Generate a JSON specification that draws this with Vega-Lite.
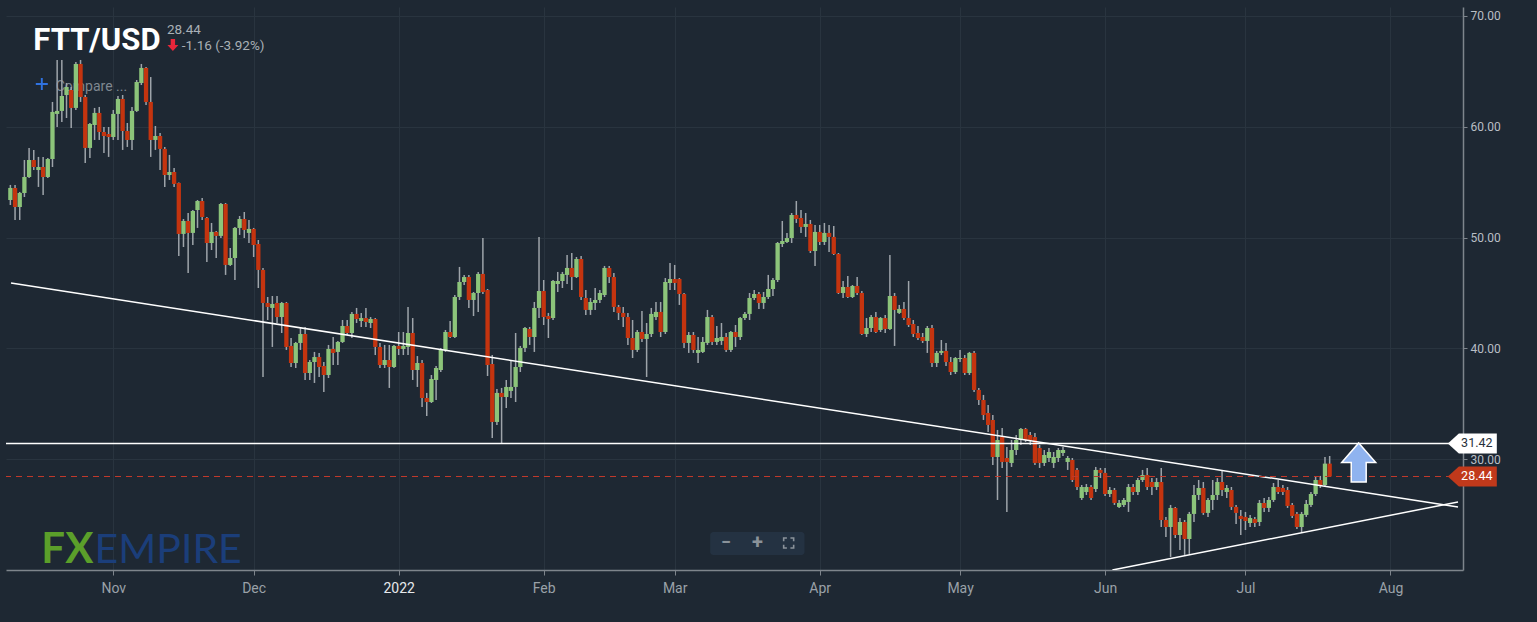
{
 "$schema": "https://vega.github.io/schema/vega-lite/v6.json",
 "width": 1457,
 "height": 563,
 "autosize": {"type": "none"},
 "padding": {"left": 6, "top": 7, "right": 74, "bottom": 52},
 "background": "#1e2833",
 "config": {"view": {"stroke": null}, "font": "Roboto"},
 "datasets": {
  "candles": [
{"d":"2021-10-10","o":53.39,"h":54.75,"l":52.94,"c":54.48},
{"d":"2021-10-11","o":54.48,"h":54.75,"l":51.59,"c":52.76},
{"d":"2021-10-12","o":52.76,"h":54.12,"l":51.59,"c":54.03},
{"d":"2021-10-13","o":54.03,"h":57.00,"l":53.66,"c":55.47},
{"d":"2021-10-14","o":55.47,"h":58.09,"l":55.38,"c":57.00},
{"d":"2021-10-15","o":57.00,"h":57.91,"l":56.10,"c":56.37},
{"d":"2021-10-16","o":56.10,"h":57.28,"l":54.57,"c":56.37},
{"d":"2021-10-17","o":56.37,"h":57.28,"l":53.85,"c":55.47},
{"d":"2021-10-18","o":55.47,"h":57.18,"l":55.38,"c":57.09},
{"d":"2021-10-19","o":57.09,"h":62.24,"l":56.37,"c":61.34},
{"d":"2021-10-20","o":61.16,"h":66.03,"l":59.98,"c":61.43},
{"d":"2021-10-21","o":61.43,"h":66.03,"l":60.43,"c":62.78},
{"d":"2021-10-22","o":62.87,"h":63.95,"l":60.79,"c":63.59},
{"d":"2021-10-23","o":63.32,"h":63.59,"l":59.89,"c":61.70},
{"d":"2021-10-24","o":61.70,"h":65.85,"l":61.52,"c":65.67},
{"d":"2021-10-25","o":65.67,"h":66.03,"l":62.24,"c":62.69},
{"d":"2021-10-26","o":62.69,"h":62.87,"l":56.73,"c":58.09},
{"d":"2021-10-27","o":58.09,"h":60.34,"l":57.18,"c":60.25},
{"d":"2021-10-28","o":60.16,"h":61.70,"l":58.81,"c":61.25},
{"d":"2021-10-29","o":61.25,"h":61.79,"l":58.81,"c":59.53},
{"d":"2021-10-30","o":59.53,"h":59.98,"l":57.64,"c":59.17},
{"d":"2021-10-31","o":59.35,"h":59.98,"l":57.28,"c":59.08},
{"d":"2021-11-01","o":59.08,"h":61.52,"l":58.81,"c":61.16},
{"d":"2021-11-02","o":61.16,"h":62.78,"l":58.81,"c":62.51},
{"d":"2021-11-03","o":62.51,"h":62.87,"l":57.91,"c":59.62},
{"d":"2021-11-04","o":59.62,"h":60.34,"l":58.18,"c":58.81},
{"d":"2021-11-05","o":58.81,"h":61.79,"l":57.91,"c":61.43},
{"d":"2021-11-06","o":61.43,"h":64.22,"l":61.34,"c":64.04},
{"d":"2021-11-07","o":63.95,"h":65.67,"l":63.77,"c":65.31},
{"d":"2021-11-08","o":65.31,"h":65.40,"l":61.97,"c":62.24},
{"d":"2021-11-09","o":62.24,"h":64.49,"l":57.28,"c":58.81},
{"d":"2021-11-10","o":58.81,"h":60.07,"l":57.91,"c":59.17},
{"d":"2021-11-11","o":59.17,"h":59.44,"l":56.10,"c":58.00},
{"d":"2021-11-12","o":58.00,"h":58.18,"l":54.57,"c":55.65},
{"d":"2021-11-13","o":55.65,"h":57.46,"l":55.20,"c":55.92},
{"d":"2021-11-14","o":55.92,"h":56.28,"l":54.57,"c":54.84},
{"d":"2021-11-15","o":54.93,"h":54.98,"l":48.34,"c":50.33},
{"d":"2021-11-16","o":50.33,"h":51.68,"l":49.15,"c":51.50},
{"d":"2021-11-17","o":51.50,"h":52.22,"l":46.81,"c":50.42},
{"d":"2021-11-18","o":50.42,"h":52.49,"l":49.33,"c":52.40},
{"d":"2021-11-19","o":52.49,"h":53.39,"l":50.87,"c":53.30},
{"d":"2021-11-20","o":53.30,"h":53.57,"l":51.59,"c":51.86},
{"d":"2021-11-21","o":51.77,"h":51.86,"l":47.80,"c":49.51},
{"d":"2021-11-22","o":49.51,"h":51.32,"l":48.88,"c":50.51},
{"d":"2021-11-23","o":50.51,"h":50.60,"l":48.16,"c":50.15},
{"d":"2021-11-24","o":50.15,"h":53.12,"l":49.96,"c":53.03},
{"d":"2021-11-25","o":53.03,"h":53.12,"l":46.63,"c":47.53},
{"d":"2021-11-26","o":47.53,"h":49.06,"l":47.44,"c":48.16},
{"d":"2021-11-27","o":48.16,"h":50.96,"l":46.17,"c":50.87},
{"d":"2021-11-28","o":50.87,"h":51.95,"l":50.24,"c":51.68},
{"d":"2021-11-29","o":51.68,"h":52.31,"l":49.96,"c":50.69},
{"d":"2021-11-30","o":50.42,"h":51.59,"l":49.51,"c":50.78},
{"d":"2021-12-01","o":50.78,"h":50.87,"l":48.25,"c":49.33},
{"d":"2021-12-02","o":49.42,"h":49.78,"l":45.45,"c":47.08},
{"d":"2021-12-03","o":47.08,"h":47.26,"l":37.42,"c":44.10},
{"d":"2021-12-04","o":44.10,"h":44.64,"l":42.56,"c":43.74},
{"d":"2021-12-05","o":43.65,"h":44.73,"l":40.13,"c":44.01},
{"d":"2021-12-06","o":44.10,"h":44.73,"l":42.29,"c":42.83},
{"d":"2021-12-07","o":42.83,"h":44.19,"l":41.39,"c":44.10},
{"d":"2021-12-08","o":44.10,"h":44.19,"l":39.86,"c":40.13},
{"d":"2021-12-09","o":40.22,"h":40.94,"l":38.32,"c":38.68},
{"d":"2021-12-10","o":38.68,"h":40.58,"l":38.23,"c":40.49},
{"d":"2021-12-11","o":40.49,"h":41.93,"l":39.86,"c":41.30},
{"d":"2021-12-12","o":41.30,"h":41.93,"l":37.15,"c":37.78},
{"d":"2021-12-13","o":37.78,"h":38.95,"l":37.15,"c":38.77},
{"d":"2021-12-14","o":38.77,"h":39.68,"l":36.88,"c":39.22},
{"d":"2021-12-15","o":39.22,"h":39.59,"l":37.42,"c":38.32},
{"d":"2021-12-16","o":38.41,"h":38.77,"l":36.07,"c":37.60},
{"d":"2021-12-17","o":37.60,"h":40.31,"l":37.33,"c":39.95},
{"d":"2021-12-18","o":39.95,"h":41.03,"l":38.50,"c":39.59},
{"d":"2021-12-19","o":39.68,"h":40.67,"l":38.50,"c":40.58},
{"d":"2021-12-20","o":40.58,"h":42.56,"l":40.49,"c":42.02},
{"d":"2021-12-21","o":42.02,"h":42.56,"l":41.21,"c":41.39},
{"d":"2021-12-22","o":41.39,"h":43.29,"l":40.94,"c":43.11},
{"d":"2021-12-23","o":43.11,"h":43.65,"l":42.29,"c":42.65},
{"d":"2021-12-24","o":42.47,"h":43.20,"l":41.93,"c":42.74},
{"d":"2021-12-25","o":42.74,"h":43.65,"l":41.93,"c":42.38},
{"d":"2021-12-26","o":42.29,"h":42.83,"l":41.84,"c":42.65},
{"d":"2021-12-27","o":42.65,"h":42.74,"l":39.40,"c":40.13},
{"d":"2021-12-28","o":40.13,"h":40.49,"l":38.23,"c":38.50},
{"d":"2021-12-29","o":38.50,"h":40.31,"l":38.23,"c":38.95},
{"d":"2021-12-30","o":38.95,"h":40.31,"l":36.43,"c":38.32},
{"d":"2021-12-31","o":38.32,"h":40.31,"l":38.23,"c":40.22},
{"d":"2022-01-01","o":40.22,"h":41.48,"l":39.40,"c":39.95},
{"d":"2022-01-02","o":39.95,"h":41.48,"l":39.40,"c":40.22},
{"d":"2022-01-03","o":40.13,"h":43.74,"l":39.40,"c":41.39},
{"d":"2022-01-04","o":41.39,"h":42.74,"l":37.15,"c":38.05},
{"d":"2022-01-05","o":38.05,"h":39.31,"l":36.52,"c":38.68},
{"d":"2022-01-06","o":38.68,"h":38.95,"l":34.71,"c":35.52},
{"d":"2022-01-07","o":35.52,"h":35.98,"l":33.90,"c":35.16},
{"d":"2022-01-08","o":35.16,"h":37.60,"l":35.07,"c":37.24},
{"d":"2022-01-09","o":37.15,"h":38.41,"l":35.34,"c":38.23},
{"d":"2022-01-10","o":38.05,"h":40.04,"l":37.87,"c":39.86},
{"d":"2022-01-11","o":39.86,"h":41.66,"l":39.68,"c":41.48},
{"d":"2022-01-12","o":41.48,"h":42.47,"l":40.94,"c":41.03},
{"d":"2022-01-13","o":41.03,"h":44.82,"l":40.94,"c":44.64},
{"d":"2022-01-14","o":44.64,"h":47.35,"l":44.37,"c":45.99},
{"d":"2022-01-15","o":45.99,"h":46.63,"l":45.72,"c":46.44},
{"d":"2022-01-16","o":46.44,"h":46.63,"l":43.65,"c":44.37},
{"d":"2022-01-17","o":44.37,"h":45.09,"l":42.92,"c":45.00},
{"d":"2022-01-18","o":45.00,"h":46.90,"l":43.29,"c":46.72},
{"d":"2022-01-19","o":46.72,"h":49.96,"l":44.91,"c":45.09},
{"d":"2022-01-20","o":45.27,"h":45.36,"l":37.51,"c":38.50},
{"d":"2022-01-21","o":38.59,"h":39.40,"l":31.91,"c":33.36},
{"d":"2022-01-22","o":33.36,"h":36.34,"l":33.09,"c":35.98},
{"d":"2022-01-23","o":35.98,"h":36.43,"l":31.37,"c":35.61},
{"d":"2022-01-24","o":35.61,"h":37.15,"l":34.62,"c":36.52},
{"d":"2022-01-25","o":36.16,"h":38.95,"l":35.52,"c":36.52},
{"d":"2022-01-26","o":36.52,"h":41.39,"l":35.16,"c":38.32},
{"d":"2022-01-27","o":38.32,"h":40.22,"l":37.87,"c":40.04},
{"d":"2022-01-28","o":40.04,"h":41.93,"l":39.68,"c":41.84},
{"d":"2022-01-29","o":41.75,"h":41.93,"l":40.31,"c":41.03},
{"d":"2022-01-30","o":41.03,"h":44.19,"l":39.68,"c":43.65},
{"d":"2022-01-31","o":43.65,"h":50.06,"l":42.74,"c":45.18},
{"d":"2022-02-01","o":45.18,"h":46.17,"l":42.11,"c":42.83},
{"d":"2022-02-02","o":42.92,"h":43.20,"l":40.94,"c":42.65},
{"d":"2022-02-03","o":42.74,"h":46.17,"l":42.56,"c":46.08},
{"d":"2022-02-04","o":45.81,"h":46.90,"l":45.09,"c":46.08},
{"d":"2022-02-05","o":46.08,"h":46.90,"l":45.45,"c":46.72},
{"d":"2022-02-06","o":46.63,"h":48.43,"l":45.81,"c":47.26},
{"d":"2022-02-07","o":47.26,"h":48.61,"l":45.27,"c":46.44},
{"d":"2022-02-08","o":46.44,"h":48.25,"l":46.35,"c":48.07},
{"d":"2022-02-09","o":48.07,"h":48.34,"l":44.37,"c":44.64},
{"d":"2022-02-10","o":44.55,"h":45.27,"l":43.02,"c":43.47},
{"d":"2022-02-11","o":43.47,"h":44.55,"l":43.02,"c":44.19},
{"d":"2022-02-12","o":44.10,"h":45.45,"l":43.47,"c":44.37},
{"d":"2022-02-13","o":44.37,"h":45.27,"l":44.10,"c":45.00},
{"d":"2022-02-14","o":44.82,"h":47.44,"l":44.64,"c":47.26},
{"d":"2022-02-15","o":47.26,"h":47.44,"l":45.90,"c":46.44},
{"d":"2022-02-16","o":46.44,"h":46.81,"l":43.29,"c":43.74},
{"d":"2022-02-17","o":43.74,"h":43.92,"l":42.56,"c":43.20},
{"d":"2022-02-18","o":43.20,"h":43.74,"l":41.93,"c":42.83},
{"d":"2022-02-19","o":42.83,"h":43.20,"l":40.31,"c":40.94},
{"d":"2022-02-20","o":40.94,"h":42.56,"l":39.13,"c":39.86},
{"d":"2022-02-21","o":39.86,"h":41.66,"l":39.68,"c":41.48},
{"d":"2022-02-22","o":41.48,"h":43.38,"l":40.58,"c":40.85},
{"d":"2022-02-23","o":40.85,"h":42.29,"l":37.42,"c":41.30},
{"d":"2022-02-24","o":41.30,"h":43.65,"l":41.03,"c":43.11},
{"d":"2022-02-25","o":42.83,"h":44.19,"l":42.56,"c":43.29},
{"d":"2022-02-26","o":43.29,"h":44.19,"l":41.03,"c":41.48},
{"d":"2022-02-27","o":41.48,"h":46.35,"l":41.30,"c":45.99},
{"d":"2022-02-28","o":45.90,"h":47.71,"l":45.27,"c":46.26},
{"d":"2022-03-01","o":46.26,"h":47.53,"l":45.27,"c":45.90},
{"d":"2022-03-02","o":46.26,"h":46.35,"l":43.92,"c":44.91},
{"d":"2022-03-03","o":44.91,"h":45.00,"l":40.04,"c":40.49},
{"d":"2022-03-04","o":40.49,"h":41.48,"l":39.59,"c":41.21},
{"d":"2022-03-05","o":41.21,"h":41.48,"l":39.59,"c":39.86},
{"d":"2022-03-06","o":39.59,"h":41.03,"l":38.68,"c":39.86},
{"d":"2022-03-07","o":39.68,"h":41.03,"l":39.59,"c":40.58},
{"d":"2022-03-08","o":40.49,"h":43.47,"l":40.31,"c":42.83},
{"d":"2022-03-09","o":42.83,"h":43.02,"l":40.31,"c":40.58},
{"d":"2022-03-10","o":40.58,"h":42.02,"l":40.31,"c":40.94},
{"d":"2022-03-11","o":40.67,"h":42.29,"l":40.31,"c":41.03},
{"d":"2022-03-12","o":41.03,"h":41.39,"l":39.68,"c":39.86},
{"d":"2022-03-13","o":39.86,"h":41.57,"l":39.68,"c":41.48},
{"d":"2022-03-14","o":41.48,"h":42.11,"l":40.13,"c":41.03},
{"d":"2022-03-15","o":41.03,"h":42.83,"l":40.76,"c":42.74},
{"d":"2022-03-16","o":42.74,"h":43.29,"l":42.56,"c":43.11},
{"d":"2022-03-17","o":43.11,"h":45.00,"l":42.56,"c":44.55},
{"d":"2022-03-18","o":44.55,"h":45.27,"l":44.37,"c":44.91},
{"d":"2022-03-19","o":44.91,"h":45.09,"l":43.56,"c":44.10},
{"d":"2022-03-20","o":44.10,"h":45.09,"l":43.56,"c":44.64},
{"d":"2022-03-21","o":44.64,"h":46.63,"l":44.46,"c":45.36},
{"d":"2022-03-22","o":45.36,"h":46.35,"l":44.73,"c":46.17},
{"d":"2022-03-23","o":46.17,"h":49.60,"l":45.99,"c":49.51},
{"d":"2022-03-24","o":49.42,"h":51.50,"l":49.15,"c":49.69},
{"d":"2022-03-25","o":49.60,"h":50.42,"l":49.51,"c":49.96},
{"d":"2022-03-26","o":49.96,"h":52.22,"l":49.51,"c":52.04},
{"d":"2022-03-27","o":52.04,"h":53.30,"l":51.32,"c":51.68},
{"d":"2022-03-28","o":51.77,"h":52.49,"l":50.42,"c":50.96},
{"d":"2022-03-29","o":50.96,"h":52.22,"l":50.06,"c":51.23},
{"d":"2022-03-30","o":51.23,"h":51.59,"l":48.61,"c":48.79},
{"d":"2022-03-31","o":48.79,"h":51.14,"l":47.44,"c":50.51},
{"d":"2022-04-01","o":50.51,"h":51.14,"l":49.33,"c":49.60},
{"d":"2022-04-02","o":49.60,"h":51.32,"l":49.33,"c":50.42},
{"d":"2022-04-03","o":50.42,"h":51.14,"l":48.70,"c":50.06},
{"d":"2022-04-04","o":50.06,"h":51.05,"l":48.43,"c":48.52},
{"d":"2022-04-05","o":48.52,"h":48.61,"l":44.91,"c":45.00},
{"d":"2022-04-06","o":45.00,"h":46.08,"l":44.55,"c":45.54},
{"d":"2022-04-07","o":45.54,"h":46.53,"l":44.55,"c":44.64},
{"d":"2022-04-08","o":44.64,"h":45.72,"l":44.55,"c":45.63},
{"d":"2022-04-09","o":45.63,"h":46.44,"l":44.82,"c":45.00},
{"d":"2022-04-10","o":45.00,"h":45.18,"l":41.21,"c":41.30},
{"d":"2022-04-11","o":41.30,"h":42.74,"l":41.03,"c":41.84},
{"d":"2022-04-12","o":41.84,"h":43.02,"l":41.48,"c":42.83},
{"d":"2022-04-13","o":42.83,"h":43.29,"l":41.39,"c":41.48},
{"d":"2022-04-14","o":41.66,"h":42.83,"l":41.48,"c":42.74},
{"d":"2022-04-15","o":42.74,"h":43.02,"l":41.39,"c":41.75},
{"d":"2022-04-16","o":41.75,"h":48.43,"l":41.66,"c":44.73},
{"d":"2022-04-17","o":44.73,"h":45.00,"l":40.22,"c":43.47},
{"d":"2022-04-18","o":43.20,"h":43.92,"l":43.11,"c":43.56},
{"d":"2022-04-19","o":43.56,"h":44.19,"l":42.56,"c":42.74},
{"d":"2022-04-20","o":42.74,"h":46.08,"l":41.93,"c":42.11},
{"d":"2022-04-21","o":42.20,"h":42.56,"l":41.03,"c":41.30},
{"d":"2022-04-22","o":41.39,"h":42.02,"l":40.76,"c":40.94},
{"d":"2022-04-23","o":41.03,"h":41.39,"l":40.49,"c":40.67},
{"d":"2022-04-24","o":40.67,"h":42.02,"l":39.59,"c":41.84},
{"d":"2022-04-25","o":41.84,"h":42.11,"l":38.32,"c":38.68},
{"d":"2022-04-26","o":38.68,"h":39.77,"l":38.32,"c":39.59},
{"d":"2022-04-27","o":39.59,"h":40.76,"l":39.40,"c":39.77},
{"d":"2022-04-28","o":39.77,"h":40.49,"l":38.41,"c":38.77},
{"d":"2022-04-29","o":38.77,"h":39.22,"l":37.60,"c":37.87},
{"d":"2022-04-30","o":37.87,"h":39.22,"l":37.69,"c":39.13},
{"d":"2022-05-01","o":39.04,"h":39.86,"l":38.77,"c":39.13},
{"d":"2022-05-02","o":39.13,"h":39.40,"l":37.60,"c":37.78},
{"d":"2022-05-03","o":37.78,"h":39.68,"l":37.60,"c":39.59},
{"d":"2022-05-04","o":39.59,"h":39.77,"l":36.07,"c":36.25},
{"d":"2022-05-05","o":36.25,"h":36.43,"l":34.89,"c":35.34},
{"d":"2022-05-06","o":35.34,"h":35.80,"l":33.54,"c":33.99},
{"d":"2022-05-07","o":34.17,"h":34.89,"l":32.46,"c":33.09},
{"d":"2022-05-08","o":33.54,"h":33.99,"l":29.48,"c":30.20},
{"d":"2022-05-09","o":30.20,"h":32.64,"l":26.32,"c":31.73},
{"d":"2022-05-10","o":32.00,"h":32.82,"l":29.21,"c":29.75},
{"d":"2022-05-11","o":30.11,"h":31.10,"l":25.24,"c":29.75},
{"d":"2022-05-12","o":29.66,"h":31.73,"l":29.30,"c":30.83},
{"d":"2022-05-13","o":30.83,"h":32.19,"l":30.38,"c":31.73},
{"d":"2022-05-14","o":31.73,"h":32.82,"l":31.28,"c":32.73},
{"d":"2022-05-15","o":32.73,"h":32.82,"l":31.55,"c":31.73},
{"d":"2022-05-16","o":32.19,"h":32.46,"l":31.28,"c":31.73},
{"d":"2022-05-17","o":32.00,"h":32.37,"l":29.48,"c":29.66},
{"d":"2022-05-18","o":31.01,"h":31.28,"l":29.21,"c":29.66},
{"d":"2022-05-19","o":29.66,"h":30.83,"l":29.39,"c":30.38},
{"d":"2022-05-20","o":30.11,"h":31.01,"l":29.75,"c":30.65},
{"d":"2022-05-21","o":29.66,"h":30.65,"l":29.21,"c":30.20},
{"d":"2022-05-22","o":30.11,"h":31.01,"l":29.75,"c":30.83},
{"d":"2022-05-23","o":30.56,"h":31.10,"l":30.29,"c":30.83},
{"d":"2022-05-24","o":29.75,"h":30.29,"l":29.03,"c":30.11},
{"d":"2022-05-25","o":29.93,"h":30.11,"l":27.94,"c":28.12},
{"d":"2022-05-26","o":29.03,"h":29.21,"l":27.22,"c":27.49},
{"d":"2022-05-27","o":26.50,"h":27.67,"l":26.32,"c":27.49},
{"d":"2022-05-28","o":27.04,"h":27.76,"l":26.77,"c":27.49},
{"d":"2022-05-29","o":27.49,"h":27.67,"l":26.32,"c":26.50},
{"d":"2022-05-30","o":27.31,"h":29.30,"l":27.04,"c":29.03},
{"d":"2022-05-31","o":29.03,"h":29.21,"l":28.30,"c":28.76},
{"d":"2022-06-01","o":28.76,"h":29.21,"l":26.68,"c":26.86},
{"d":"2022-06-02","o":26.86,"h":27.49,"l":26.59,"c":27.22},
{"d":"2022-06-03","o":27.22,"h":27.40,"l":25.87,"c":26.05},
{"d":"2022-06-04","o":25.69,"h":26.32,"l":25.60,"c":26.05},
{"d":"2022-06-05","o":25.87,"h":26.50,"l":25.69,"c":26.32},
{"d":"2022-06-06","o":26.14,"h":27.76,"l":25.24,"c":27.49},
{"d":"2022-06-07","o":27.49,"h":27.76,"l":26.77,"c":27.04},
{"d":"2022-06-08","o":27.04,"h":28.30,"l":26.77,"c":28.12},
{"d":"2022-06-09","o":28.12,"h":29.03,"l":27.94,"c":28.57},
{"d":"2022-06-10","o":28.57,"h":29.21,"l":27.22,"c":27.49},
{"d":"2022-06-11","o":27.94,"h":28.30,"l":26.77,"c":27.49},
{"d":"2022-06-12","o":27.49,"h":28.30,"l":27.22,"c":27.94},
{"d":"2022-06-13","o":27.94,"h":29.21,"l":23.88,"c":24.51},
{"d":"2022-06-14","o":24.51,"h":24.79,"l":22.98,"c":23.88},
{"d":"2022-06-15","o":23.88,"h":25.87,"l":21.18,"c":25.60},
{"d":"2022-06-16","o":25.60,"h":25.69,"l":22.89,"c":23.16},
{"d":"2022-06-17","o":23.16,"h":24.69,"l":21.81,"c":24.33},
{"d":"2022-06-18","o":24.33,"h":24.51,"l":21.36,"c":22.80},
{"d":"2022-06-19","o":22.80,"h":25.24,"l":21.45,"c":25.06},
{"d":"2022-06-20","o":25.06,"h":27.67,"l":24.33,"c":26.77},
{"d":"2022-06-21","o":26.77,"h":28.12,"l":26.32,"c":27.40},
{"d":"2022-06-22","o":27.40,"h":27.94,"l":24.97,"c":25.15},
{"d":"2022-06-23","o":25.15,"h":26.50,"l":24.79,"c":26.32},
{"d":"2022-06-24","o":26.32,"h":28.12,"l":25.42,"c":26.77},
{"d":"2022-06-25","o":26.77,"h":28.30,"l":26.32,"c":27.94},
{"d":"2022-06-26","o":27.94,"h":29.03,"l":26.68,"c":27.22},
{"d":"2022-06-27","o":27.04,"h":27.67,"l":26.50,"c":27.40},
{"d":"2022-06-28","o":27.22,"h":27.49,"l":25.42,"c":25.69},
{"d":"2022-06-29","o":25.69,"h":25.87,"l":24.15,"c":25.15},
{"d":"2022-06-30","o":24.88,"h":25.42,"l":23.16,"c":24.60},
{"d":"2022-07-01","o":24.79,"h":25.24,"l":23.61,"c":24.42},
{"d":"2022-07-02","o":24.24,"h":24.97,"l":23.88,"c":24.69},
{"d":"2022-07-03","o":24.60,"h":24.79,"l":23.88,"c":24.24},
{"d":"2022-07-04","o":24.33,"h":26.32,"l":23.97,"c":26.05},
{"d":"2022-07-05","o":26.05,"h":26.50,"l":25.24,"c":25.60},
{"d":"2022-07-06","o":25.60,"h":26.59,"l":25.24,"c":26.32},
{"d":"2022-07-07","o":26.32,"h":27.85,"l":26.14,"c":27.49},
{"d":"2022-07-08","o":27.49,"h":28.12,"l":26.86,"c":27.04},
{"d":"2022-07-09","o":27.40,"h":27.67,"l":26.77,"c":27.04},
{"d":"2022-07-10","o":27.22,"h":27.49,"l":25.60,"c":25.78},
{"d":"2022-07-11","o":25.87,"h":26.05,"l":24.69,"c":24.88},
{"d":"2022-07-12","o":25.06,"h":25.24,"l":23.70,"c":23.88},
{"d":"2022-07-13","o":23.88,"h":25.24,"l":23.34,"c":25.06},
{"d":"2022-07-14","o":24.97,"h":26.32,"l":24.79,"c":25.96},
{"d":"2022-07-15","o":25.87,"h":27.04,"l":25.69,"c":26.86},
{"d":"2022-07-16","o":26.86,"h":28.40,"l":26.68,"c":28.12},
{"d":"2022-07-17","o":28.12,"h":28.49,"l":27.40,"c":27.67},
{"d":"2022-07-18","o":27.67,"h":30.20,"l":27.49,"c":29.60},
{"d":"2022-07-19","o":29.60,"h":30.29,"l":28.40,"c":28.44}
  ],
  "trend": [
   {"t": "down", "d": "2021-10-10T03:13:00Z", "p": 45.90},
   {"t": "down", "d": "2022-08-15T10:25:00Z", "p": 25.69},
   {"t": "up", "d": "2022-06-02T13:30:00Z", "p": 20.0},
   {"t": "up", "d": "2022-08-15T10:25:00Z", "p": 26.14}
  ]
 },
 "layer": [
  {
   "data": {"values": [{}]},
   "mark": {"type": "text", "text": "Compare ...", "align": "left", "baseline": "alphabetic", "fontSize": 14, "color": "#7e8790", "font": "Roboto"},
   "encoding": {
    "x": {"datum": {"year": 2021, "month": 10, "date": 19, "hours": 16, "minutes": 30, "utc": true}, "type": "temporal"},
    "y": {"datum": 63.23, "type": "quantitative"}
   }
  },
  {
   "data": {"values": [{}]},
   "mark": {"type": "point", "shape": "M-1,-0.16H1V0.16H-1Z M-0.16,-1H0.16V1H-0.16Z", "size": 144, "filled": true, "color": "#2f72e0", "opacity": 1},
   "encoding": {
    "x": {"datum": {"year": 2021, "month": 10, "date": 16, "hours": 17, "minutes": 15, "utc": true}, "type": "temporal"},
    "y": {"datum": 63.86, "type": "quantitative"}
   }
  },
  {
   "data": {"values": [{}]},
   "mark": {"type": "text", "text": "FX", "align": "left", "baseline": "alphabetic", "fontSize": 42, "fontWeight": "bold", "color": "#5b9f2a", "font": "Lato"},
   "encoding": {
    "x": {"datum": {"year": 2021, "month": 10, "date": 16, "hours": 15, "utc": true}, "type": "temporal"},
    "y": {"datum": 20.63, "type": "quantitative"}
   }
  },
  {
   "data": {"values": [{}]},
   "mark": {"type": "text", "text": "EMPIRE", "align": "left", "baseline": "alphabetic", "fontSize": 41, "fontWeight": "normal", "color": "#1b3e7a", "font": "Lato"},
   "encoding": {
    "x": {"datum": {"year": 2021, "month": 10, "date": 28, "hours": 0, "utc": true}, "type": "temporal"},
    "y": {"datum": 20.63, "type": "quantitative"}
   }
  },
  {
   "data": {"values": [{}]},
   "mark": {"type": "rect", "color": "#243242", "cornerRadius": 3},
   "encoding": {
    "x": {"datum": {"year": 2022, "month": 3, "date": 8, "hours": 14, "minutes": 10, "utc": true}, "type": "temporal"},
    "x2": {"datum": {"year": 2022, "month": 3, "date": 28, "hours": 18, "utc": true}},
    "y": {"datum": 23.43, "type": "quantitative"},
    "y2": {"datum": 21.36}
   }
  },
  {
   "data": {"values": [{}]},
   "mark": {"type": "text", "text": "−", "align": "center", "baseline": "middle", "fontSize": 18, "fontWeight": "bold", "color": "#8a929a"},
   "encoding": {
    "x": {"datum": {"year": 2022, "month": 3, "date": 11, "hours": 23, "minutes": 30, "utc": true}, "type": "temporal"},
    "y": {"datum": 22.44, "type": "quantitative"}
   }
  },
  {
   "data": {"values": [{}]},
   "mark": {"type": "text", "text": "+", "align": "center", "baseline": "middle", "fontSize": 20, "fontWeight": "bold", "color": "#8a929a"},
   "encoding": {
    "x": {"datum": {"year": 2022, "month": 3, "date": 18, "hours": 17, "utc": true}, "type": "temporal"},
    "y": {"datum": 22.44, "type": "quantitative"}
   }
  },
  {
   "data": {"values": [{}]},
   "mark": {"type": "point", "shape": "M-1,-0.35V-1H-0.35 M0.35,-1H1V-0.35 M1,0.35V1H0.35 M-0.35,1H-1V0.35", "size": 100, "filled": false, "stroke": "#8a929a", "strokeWidth": 1.6, "opacity": 1},
   "encoding": {
    "x": {"datum": {"year": 2022, "month": 3, "date": 25, "hours": 8, "minutes": 40, "utc": true}, "type": "temporal"},
    "y": {"datum": 22.44, "type": "quantitative"}
   }
  },
  {
   "data": {"name": "candles"},
   "mark": {"type": "rule", "color": "#9ea4aa", "strokeWidth": 1.5, "clip": true},
   "encoding": {
    "x": {
     "field": "d", "type": "temporal",
     "scale": {"type": "utc", "domain": [{"year": 2021, "month": 10, "date": 10, "hours": 3, "minutes": 13, "utc": true}, {"year": 2022, "month": 8, "date": 15, "hours": 10, "minutes": 25, "utc": true}]},
     "axis": {
      "title": null,
      "values": [
       {"year": 2021, "month": 11, "date": 1, "utc": true},
       {"year": 2021, "month": 12, "date": 1, "utc": true},
       {"year": 2022, "month": 1, "date": 1, "utc": true},
       {"year": 2022, "month": 2, "date": 1, "utc": true},
       {"year": 2022, "month": 3, "date": 1, "utc": true},
       {"year": 2022, "month": 4, "date": 1, "utc": true},
       {"year": 2022, "month": 5, "date": 1, "utc": true},
       {"year": 2022, "month": 6, "date": 1, "utc": true},
       {"year": 2022, "month": 7, "date": 1, "utc": true},
       {"year": 2022, "month": 8, "date": 1, "utc": true}
      ],
      "labelExpr": "utcFormat(datum.value, '%m') == '01' ? utcFormat(datum.value, '%Y') : utcFormat(datum.value, '%b')",
      "labelColor": {"condition": {"test": "utcFormat(datum.value, '%m') == '01'", "value": "#e6e9ec"}, "value": "#9aa1a8"},
      "labelFontSize": 14,
      "labelFont": "Roboto",
      "labelPadding": 6,
      "labelFlush": false,
      "labelOverlap": false,
      "domainColor": "#7e858c",
      "domainWidth": 1.5,
      "tickColor": "#7e858c",
      "tickSize": 5,
      "tickWidth": 1,
      "grid": true,
      "gridColor": "#29343f",
      "gridWidth": 1
     }
    },
    "y": {
     "field": "l", "type": "quantitative",
     "scale": {"domain": [20.0, 70.81], "zero": false, "nice": false},
     "axis": {
      "title": null,
      "orient": "right",
      "values": [30, 40, 50, 60, 70],
      "format": ".2f",
      "labelColor": "#b9bfc5",
      "labelFontSize": 12,
      "labelFont": "Roboto",
      "labelPadding": 3,
      "domainColor": "#7e858c",
      "domainWidth": 1.5,
      "tickColor": "#7e858c",
      "tickSize": 4,
      "grid": true,
      "gridColor": "#29343f",
      "gridWidth": 1
     }
    },
    "y2": {"field": "h"}
   }
  },
  {
   "data": {"name": "candles"},
   "mark": {"type": "bar", "size": 4.3, "clip": true},
   "encoding": {
    "x": {"field": "d", "type": "temporal", "title": null},
    "y": {"field": "o", "type": "quantitative", "title": null},
    "y2": {"field": "c"},
    "color": {"condition": {"test": "datum.c >= datum.o", "value": "#8cc47a"}, "value": "#c4340f"}
   }
  },
  {
   "data": {"name": "trend"},
   "mark": {"type": "line", "color": "#ffffff", "strokeWidth": 1.5, "clip": true},
   "encoding": {
    "x": {"field": "d", "type": "temporal", "title": null},
    "y": {"field": "p", "type": "quantitative", "title": null},
    "detail": {"field": "t"}
   }
  },
  {
   "data": {"values": [{}]},
   "mark": {"type": "rule", "color": "#ffffff", "strokeWidth": 1.5},
   "encoding": {"y": {"datum": 31.42, "type": "quantitative"}}
  },
  {
   "data": {"values": [{}]},
   "mark": {"type": "rule", "color": "#c0392b", "strokeWidth": 1.2, "strokeDash": [6, 5]},
   "encoding": {"y": {"datum": 28.44, "type": "quantitative"}}
  },
  {
   "data": {"values": [{}]},
   "mark": {"type": "point", "shape": "M-1,0L-0.55,-0.41L1,-0.41L1,0.41L-0.55,0.41Z", "size": 2401, "filled": true, "color": "#ffffff", "opacity": 1},
   "encoding": {
    "x": {"datum": {"year": 2022, "month": 8, "date": 18, "hours": 12, "utc": true}, "type": "temporal"},
    "y": {"datum": 31.42, "type": "quantitative"}
   }
  },
  {
   "data": {"values": [{}]},
   "mark": {"type": "text", "text": "31.42", "align": "center", "baseline": "middle", "fontSize": 12.5, "color": "#27303a", "font": "Roboto"},
   "encoding": {
    "x": {"datum": {"year": 2022, "month": 8, "date": 19, "hours": 11, "utc": true}, "type": "temporal"},
    "y": {"datum": 31.42, "type": "quantitative"}
   }
  },
  {
   "data": {"values": [{}]},
   "mark": {"type": "point", "shape": "M-1,0L-0.55,-0.41L1,-0.41L1,0.41L-0.55,0.41Z", "size": 2401, "filled": true, "color": "#c1391b", "opacity": 1},
   "encoding": {
    "x": {"datum": {"year": 2022, "month": 8, "date": 18, "hours": 12, "utc": true}, "type": "temporal"},
    "y": {"datum": 28.44, "type": "quantitative"}
   }
  },
  {
   "data": {"values": [{}]},
   "mark": {"type": "text", "text": "28.44", "align": "center", "baseline": "middle", "fontSize": 12.5, "color": "#ffffff", "font": "Roboto"},
   "encoding": {
    "x": {"datum": {"year": 2022, "month": 8, "date": 19, "hours": 11, "utc": true}, "type": "temporal"},
    "y": {"datum": 28.44, "type": "quantitative"}
   }
  },
  {
   "data": {"values": [{}]},
   "mark": {"type": "point", "shape": "M0,-1.15L1,0L0.44,0L0.44,1.15L-0.44,1.15L-0.44,0L-1,0Z", "size": 1156, "filled": true, "fill": "#8fb3ef", "stroke": "#ffffff", "strokeWidth": 1.5, "opacity": 1},
   "encoding": {
    "x": {"datum": {"year": 2022, "month": 7, "date": 25, "hours": 5, "utc": true}, "type": "temporal"},
    "y": {"datum": 29.70, "type": "quantitative"}
   }
  },
  {
   "data": {"values": [{}]},
   "mark": {"type": "text", "text": "FTT/USD", "align": "left", "baseline": "alphabetic", "fontSize": 31, "fontWeight": "bold", "color": "#ffffff", "font": "Roboto"},
   "encoding": {
    "x": {"datum": {"year": 2021, "month": 10, "date": 14, "hours": 22, "utc": true}, "type": "temporal"},
    "y": {"datum": 66.93, "type": "quantitative"}
   }
  },
  {
   "data": {"values": [{}]},
   "mark": {"type": "text", "text": "28.44", "align": "left", "baseline": "alphabetic", "fontSize": 13.5, "color": "#a9b0b6", "font": "Roboto"},
   "encoding": {
    "x": {"datum": {"year": 2021, "month": 11, "date": 12, "hours": 11, "utc": true}, "type": "temporal"},
    "y": {"datum": 68.33, "type": "quantitative"}
   }
  },
  {
   "data": {"values": [{}]},
   "mark": {"type": "point", "shape": "M0,1.1L1,0L0.4,0L0.4,-1.1L-0.4,-1.1L-0.4,0L-1,0Z", "size": 121, "filled": true, "color": "#e8263a", "opacity": 1},
   "encoding": {
    "x": {"datum": {"year": 2021, "month": 11, "date": 13, "hours": 17, "minutes": 45, "utc": true}, "type": "temporal"},
    "y": {"datum": 67.38, "type": "quantitative"}
   }
  },
  {
   "data": {"values": [{}]},
   "mark": {"type": "text", "text": "-1.16 (-3.92%)", "align": "left", "baseline": "alphabetic", "fontSize": 13.5, "color": "#a9b0b6", "font": "Roboto"},
   "encoding": {
    "x": {"datum": {"year": 2021, "month": 11, "date": 15, "hours": 15, "minutes": 30, "utc": true}, "type": "temporal"},
    "y": {"datum": 66.93, "type": "quantitative"}
   }
  }
 ]
}
